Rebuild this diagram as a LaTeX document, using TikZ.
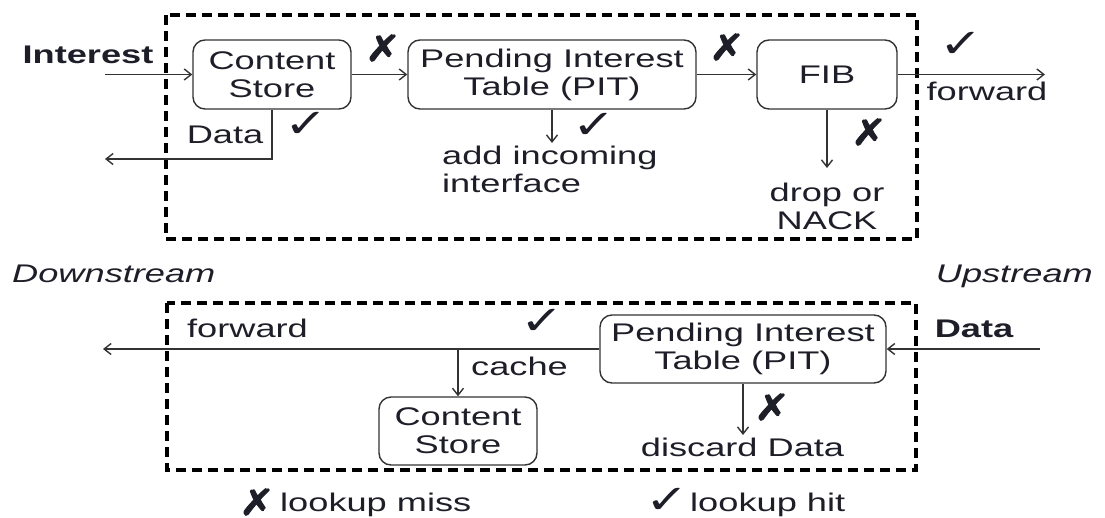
\documentclass[tikz,border=0pt]{standalone}
\usepackage{fontspec}
\setmainfont{Liberation Sans}[FakeStretch=1.42]
\newfontfamily\markfont{DejaVu Sans}[FakeStretch=1.3]
\newfontfamily\crossfont{DejaVu Sans}[FakeStretch=1.2, FakeBold=2.5]
\usetikzlibrary{arrows.meta}
\definecolor{ink}{HTML}{1E1E28}
\definecolor{wirecol}{HTML}{333333}
\newcommand\lbl{\fontsize{25.5}{28}\selectfont}
\tikzset{
  stage/.style={draw=wirecol, line width=1.4pt, rounded corners=12pt, align=center,
                inner sep=0pt, text=ink, font=\lbl},
  lbl/.style={text=ink, inner sep=0pt, font=\lbl},
  flow/.style={draw=wirecol, line width=1.4pt, -{Straight Barb[length=7pt,width=11pt]}},
  frame/.style={draw=black, line width=3.5pt, dash pattern=on 10pt off 6pt},
  miss/.style={text=ink, inner sep=0pt, font=\crossfont\fontsize{36}{36}\selectfont},
  hit/.style={text=ink, inner sep=0pt, font=\markfont\fontsize{40}{40}\selectfont}
}
\begin{document}
\begin{tikzpicture}[x=1pt,y=-1pt]
\useasboundingbox (0,0) rectangle (1105,517);

% ---------- Interest path ----------
\draw[frame] (166,15) rectangle (917,239);
\node[stage, minimum width=158pt, minimum height=69pt] (cs1) at (272,74.5) {Content\\Store};
\node[stage, minimum width=288pt, minimum height=69pt] (pit1) at (552,74.5) {Pending Interest\\Table (PIT)};
\node[stage, minimum width=140pt, minimum height=69pt] (fib) at (827,74.5) {FIB};

\node[lbl, font=\lbl\bfseries, anchor=base] (interest) at (88,63) {Interest};
\coordinate (inL) at (105,74.5);
\coordinate (outL) at (105,159);
\coordinate (outR) at (1045,74.5);

\draw[flow] (inL) -- (cs1.west);
\draw[flow] (cs1.east) -- (pit1.west);
\draw[flow] (pit1.east) -- (fib.west);
\draw[flow] (fib.east) -- (outR);
\draw[flow] (cs1.south) |- (outL);

\node[lbl, anchor=base] (data1) at (225,143) {Data};
\node[lbl, anchor=north west, align=left] (addif) at (442,146) {add incoming\\interface};
\node[lbl, anchor=north, align=center] (drop) at (827,183) {drop or\\NACK};
\node[lbl, anchor=base] (fwd1) at (987,100) {forward};

\draw[flow, shorten >=3pt] (pit1.south) -- (pit1.south |- addif.north);
\draw[flow, shorten >=15pt] (fib.south) -- (fib.south |- drop.north);

\node[miss] (x1) at (383,48) {✗};
\node[miss] (x2) at (727,47) {✗};
\node[miss] (x3) at (869,132) {✗};
\node[hit] (c1) at (961,45) {✓};
\node[hit] (c2) at (306,125) {✓};
\node[hit] (c3) at (594,126) {✓};

% ---------- side labels ----------
\node[lbl, font=\lbl\itshape, anchor=base west] (down) at (12,282) {Downstream};
\node[lbl, font=\lbl\itshape, anchor=base east] (up) at (1093,282) {Upstream};

% ---------- Data path ----------
\draw[frame] (167,303) rectangle (916,470);
\node[stage, minimum width=286pt, minimum height=68pt] (pit2) at (743,349) {Pending Interest\\Table (PIT)};
\node[stage, minimum width=158pt, minimum height=68pt] (cs2) at (458,431) {Content\\Store};

\coordinate (dataIn) at (1040,349);
\coordinate (fwdL) at (103,349);
\draw[flow] (dataIn) -- (pit2.east);
\draw[flow] (pit2.west) -- (fwdL);
\draw[flow] (pit2.west -| cs2.north) -- (cs2.north);

\node[lbl, font=\lbl\bfseries, anchor=base] (data2) at (974,337) {Data};
\node[lbl, anchor=base] (fwd2) at (247.5,337) {forward};
\node[lbl, anchor=base] (cache) at (519.5,375) {cache};
\node[lbl, anchor=north] (disc) at (742.5,438) {discard Data};
\draw[flow, shorten >=3pt] (pit2.south) -- (pit2.south |- disc.north);

\node[hit] (c4) at (542,322) {✓};
\node[miss] (x4) at (772,407) {✗};

% ---------- legend ----------
\node[miss] (xl) at (257,502) {✗};
\node[lbl, anchor=base west] (missl) at (280,511) {lookup miss};
\node[hit] (cl) at (667,501) {✓};
\node[lbl, anchor=base west] (hitl) at (690,511) {lookup hit};
\end{tikzpicture}
\end{document}
